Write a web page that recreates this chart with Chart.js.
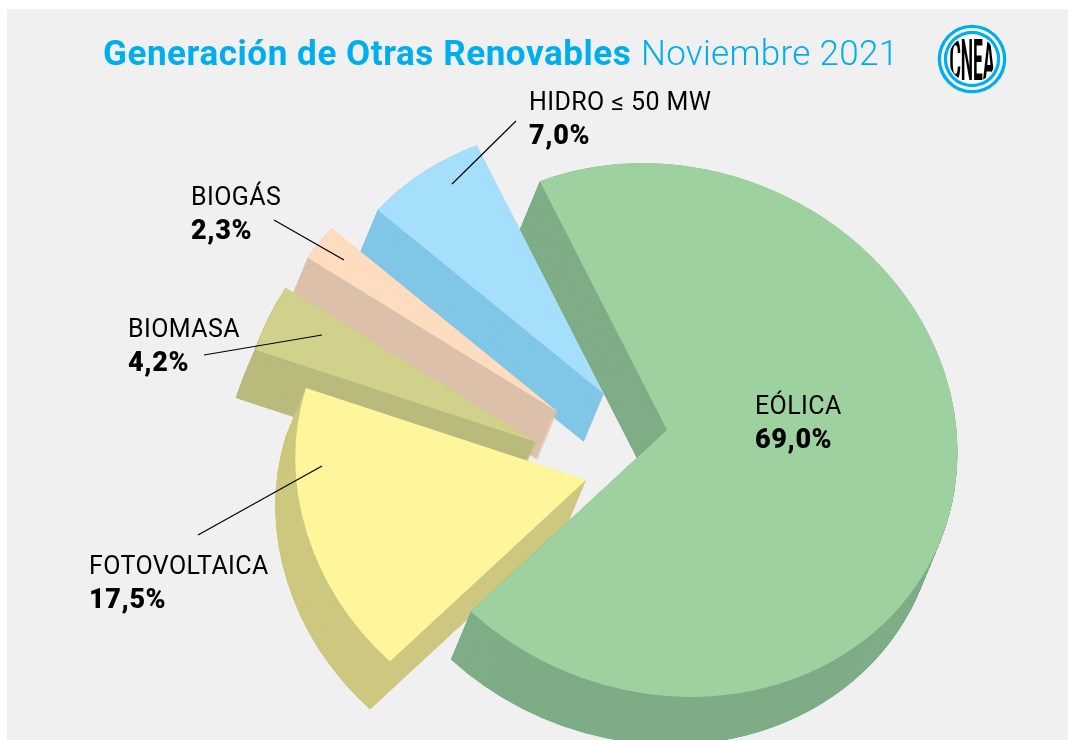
<!DOCTYPE html>
<html lang="es">
<head>
<meta charset="utf-8">
<title>Generación de Otras Renovables Noviembre 2021</title>
<style>
html,body{margin:0;padding:0;background:#fff;overflow:hidden}
#card{position:absolute;left:7px;top:9px;right:0;bottom:0;background:#f0f0f0}
canvas{position:absolute;left:0;top:0}
</style>
<script src="https://cdn.jsdelivr.net/npm/chart.js@4"></script>
</head>
<body>
<div id="card"></div>
<canvas id="c" width="1068" height="740"></canvas>
<script>
// Data
const categories = ['EÓLICA', 'FOTOVOLTAICA', 'BIOMASA', 'BIOGÁS', 'HIDRO ≤ 50 MW'];
const shares = [69.0, 17.5, 4.2, 2.3, 7.0];
const titleBold = 'Generación de Otras Renovables';
const titleLight = 'Noviembre 2021';

// Style
const topColors  = ['#9dd1a0', '#fff59a', '#d1d18b', '#fddcbf', '#a6dffb'];
const wallColors = ['#7fad87', '#cdc87f', '#babb7d', '#dcc0aa', '#80c6e6'];
const explodedApex = [[667,430],[586,480],[536,442],[558,412],[604,394]];
const paintOrder = [4, 3, 2, 1, 0];
const depth = [-20, 48];
const labelPos = [[755,414],[89,574],[128,337],[191,205],[529,110]];
const leaders = [null,[198,535,322,466],[204,355,322,335],[274,220,344,260],[516,121,452,184]];
const ellipse = {major: 295, minor: 262, tilt: 22 * Math.PI / 180};

function stretch(r) {
  const c = Math.cos(ellipse.tilt), s = Math.sin(ellipse.tilt);
  const a = ellipse.major / r, b = ellipse.minor / r;
  return [a*c*c + b*s*s, (a-b)*c*s, (a-b)*c*s, a*s*s + b*c*c];
}
function paintArc(ctx, arc, i, dx, dy, color) {
  const saved = arc.options;
  arc.options = Object.assign(Object.create(saved), {backgroundColor: color});
  const m = stretch(arc.outerRadius);
  ctx.save();
  ctx.translate(explodedApex[i][0] + dx, explodedApex[i][1] + dy);
  ctx.transform(m[0], m[1], m[2], m[3], 0, 0);
  ctx.translate(-arc.x, -arc.y);
  arc.draw(ctx);
  ctx.restore();
  arc.options = saved;
}

const extruded = {
  id: 'extruded',
  beforeDatasetsDraw(chart) {
    const ctx = chart.ctx, arcs = chart.getDatasetMeta(0).data;
    paintOrder.forEach(i => {
      const steps = 240;
      for (let k = steps; k > 0; k--) {
        paintArc(ctx, arcs[i], i, depth[0]*k/steps, depth[1]*k/steps, wallColors[i]);
      }
      paintArc(ctx, arcs[i], i, 0, 0, topColors[i]);
    });
    return false;
  },
  afterDraw(chart) {
    const ctx = chart.ctx;
    ctx.save();
    // Title
    ctx.textBaseline = 'alphabetic';
    ctx.textAlign = 'left';
    ctx.fillStyle = '#00aeef';
    ctx.letterSpacing = '0.57px';
    ctx.font = '700 35px Roboto';
    ctx.fillText(titleBold, 103, 65);
    ctx.letterSpacing = '0.3px';
    ctx.font = '300 35px Roboto';
    ctx.fillText(titleLight, 641, 65);
    // Labels
    ctx.fillStyle = '#000';
    categories.forEach((name, i) => {
      ctx.letterSpacing = '0.4px';
      ctx.font = '400 25px Roboto';
      ctx.fillText(name, labelPos[i][0], labelPos[i][1]);
      ctx.letterSpacing = '0.6px';
      ctx.font = '900 27px Roboto';
      ctx.fillText(shares[i].toFixed(1).replace('.', ',') + '%', labelPos[i][0], labelPos[i][1] + 34);
    });
    // Leader lines
    ctx.strokeStyle = '#000';
    ctx.lineWidth = 1.2;
    leaders.forEach(l => {
      if (!l) return;
      ctx.beginPath(); ctx.moveTo(l[0], l[1]); ctx.lineTo(l[2], l[3]); ctx.stroke();
    });
    // Logo
    const lx = 972, ly = 59;
    [[34.3,'#00aeef'],[31,'#fff'],[28.2,'#00aeef'],[25,'#fff']].forEach(r => {
      ctx.beginPath(); ctx.arc(lx, ly, r[0], 0, 2*Math.PI); ctx.fillStyle = r[1]; ctx.fill();
    });
    ctx.beginPath(); ctx.arc(lx, ly, 23.5, 0, 2*Math.PI); ctx.clip();
    ctx.translate(lx, ly + 21);
    ctx.scale(0.3, 1.0);
    ctx.letterSpacing = '0px';
    ctx.textAlign = 'center';
    ctx.fillStyle = '#000';
    ctx.font = '700 58px Roboto';
    ctx.fillText('CNEA', 0, 0);
    ctx.restore();
  }
};

new Chart(document.getElementById('c'), {
  type: 'pie',
  data: {
    labels: categories,
    datasets: [{ data: shares, backgroundColor: topColors, borderWidth: 0 }]
  },
  options: {
    responsive: false,
    animation: false,
    rotation: -23.7,
    plugins: { legend: {display: false}, tooltip: {enabled: false}, title: {display: false} }
  },
  plugins: [extruded]
});
</script>
</body>
</html>
